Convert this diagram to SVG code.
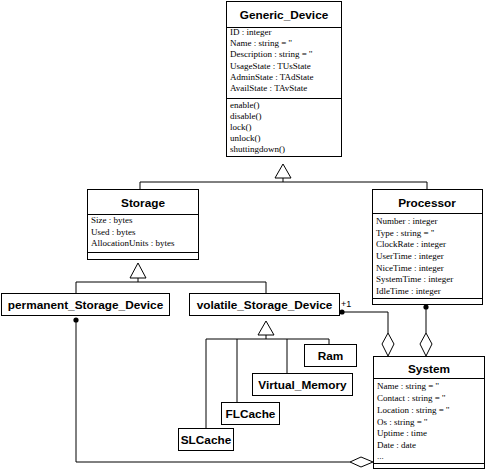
<svg xmlns="http://www.w3.org/2000/svg" width="486" height="471" viewBox="0 0 486 471">
<style>
.box{fill:#fff;stroke:#000;stroke-width:1}
.ln{fill:none;stroke:#000;stroke-width:1}
.t{font-family:"Liberation Sans",Arial,sans-serif;font-weight:bold;font-size:11.8px;text-anchor:middle;fill:#000}
.a{font-family:"Liberation Serif","Times New Roman",serif;font-size:9px;fill:#000}
.tri{fill:#fff;stroke:#000;stroke-width:1}
.dot{fill:#000}
.dia{fill:#fff;stroke:#000;stroke-width:1}
</style>
<rect width="486" height="471" fill="#fff"/>
<g id="connectors">
<polyline class="ln" points="140,189 140,182 427,182 427,189"/>
<line class="ln" x1="283" y1="178" x2="283" y2="182"/>
<polygon class="tri" points="283,164 275,178 291,178"/>
<polyline class="ln" points="76,293 76,282 266,282 266,293"/>
<line class="ln" x1="138" y1="278" x2="138" y2="282"/>
<polygon class="tri" points="138,263 130,278 146,278"/>
<polyline class="ln" points="206,428 206,339 329,339 329,344"/>
<line class="ln" x1="237" y1="339" x2="237" y2="402"/>
<line class="ln" x1="287" y1="339" x2="287" y2="373"/>
<line class="ln" x1="266" y1="335" x2="266" y2="339"/>
<polygon class="tri" points="266,321 258,335 274,335"/>
<polyline class="ln" points="76,318 76,462 350,462"/>
<circle class="dot" cx="76" cy="320" r="2.6"/>
<polygon class="dia" points="350,462 361,457 373,462 361,467"/>
<polyline class="ln" points="341,312 388,312 388,333"/>
<circle class="dot" cx="342" cy="312" r="2.6"/>
<polygon class="dia" points="388,333 394,344 388,356 382,344"/>
<text x="341" y="307" font-family="Liberation Sans,Arial,sans-serif" font-size="9" fill="#000">+1</text>
<line class="ln" x1="426" y1="304" x2="426" y2="333"/>
<circle class="dot" cx="426" cy="307" r="2.6"/>
<polygon class="dia" points="426,333 432,344 426,356 420,344"/>
</g>
<g id="Generic_Device">
<rect class="box" x="226.5" y="1.5" width="115" height="155"/>
<line class="ln" x1="226.5" y1="27.5" x2="341.5" y2="27.5"/>
<line class="ln" x1="226.5" y1="98.5" x2="341.5" y2="98.5"/>
<text class="t" x="284" y="19">Generic_Device</text>
<text class="a" x="230" y="35">ID : integer</text>
<text class="a" x="230" y="46.2">Name : string = ''</text>
<text class="a" x="230" y="57.4">Description : string = ''</text>
<text class="a" x="230" y="68.6">UsageState : TUsState</text>
<text class="a" x="230" y="79.8">AdminState : TAdState</text>
<text class="a" x="230" y="91">AvailState : TAvState</text>
<text class="a" x="230" y="107.5">enable()</text>
<text class="a" x="230" y="118.5">disable()</text>
<text class="a" x="230" y="129.5">lock()</text>
<text class="a" x="230" y="140.5">unlock()</text>
<text class="a" x="230" y="151.5">shuttingdown()</text>
</g>
<g id="Storage">
<rect class="box" x="87.5" y="189.5" width="111" height="70"/>
<line class="ln" x1="87.5" y1="214.5" x2="198.5" y2="214.5"/>
<line class="ln" x1="87.5" y1="252.5" x2="198.5" y2="252.5"/>
<text class="t" x="143" y="207">Storage</text>
<text class="a" x="91" y="223">Size : bytes</text>
<text class="a" x="91" y="234.5">Used : bytes</text>
<text class="a" x="91" y="246">AllocationUnits : bytes</text>
</g>
<g id="Processor">
<rect class="box" x="372.5" y="189.5" width="110" height="115"/>
<line class="ln" x1="372.5" y1="213.5" x2="482.5" y2="213.5"/>
<line class="ln" x1="372.5" y1="298.5" x2="482.5" y2="298.5"/>
<text class="t" x="427" y="207">Processor</text>
<text class="a" x="376" y="224">Number : integer</text>
<text class="a" x="376" y="235.7">Type : string = ''</text>
<text class="a" x="376" y="247.3">ClockRate : integer</text>
<text class="a" x="376" y="259">UserTime : integer</text>
<text class="a" x="376" y="270.7">NiceTime : integer</text>
<text class="a" x="376" y="282.3">SystemTime : integer</text>
<text class="a" x="376" y="294">IdleTime : integer</text>
</g>
<g id="permanent_Storage_Device">
<rect class="box" x="1.5" y="293.5" width="168" height="22"/>
<text class="t" x="85.5" y="309">permanent_Storage_Device</text>
</g>
<g id="volatile_Storage_Device">
<rect class="box" x="189.5" y="293.5" width="150" height="22"/>
<text class="t" x="264.5" y="309">volatile_Storage_Device</text>
</g>
<g id="Ram">
<rect class="box" x="304.5" y="344.5" width="52" height="22"/>
<text class="t" x="330.5" y="360">Ram</text>
</g>
<g id="Virtual_Memory">
<rect class="box" x="252.5" y="373.5" width="100" height="22"/>
<text class="t" x="302.5" y="389">Virtual_Memory</text>
</g>
<g id="FLCache">
<rect class="box" x="221.5" y="402.5" width="58" height="22"/>
<text class="t" x="250.5" y="418">FLCache</text>
</g>
<g id="SLCache">
<rect class="box" x="178.5" y="428.5" width="55" height="22"/>
<text class="t" x="206" y="444">SLCache</text>
</g>
<g id="System">
<rect class="box" x="373.5" y="356.5" width="111" height="112"/>
<line class="ln" x1="373.5" y1="378.5" x2="484.5" y2="378.5"/>
<line class="ln" x1="373.5" y1="463.5" x2="484.5" y2="463.5"/>
<text class="t" x="429" y="373">System</text>
<text class="a" x="377" y="389">Name : string = ''</text>
<text class="a" x="377" y="401">Contact : string = ''</text>
<text class="a" x="377" y="413">Location : string = ''</text>
<text class="a" x="377" y="424.5">Os : string = ''</text>
<text class="a" x="377" y="436">Uptime : time</text>
<text class="a" x="377" y="448">Date : date</text>
<text class="a" x="377" y="459">...</text>
</g>
</svg>
